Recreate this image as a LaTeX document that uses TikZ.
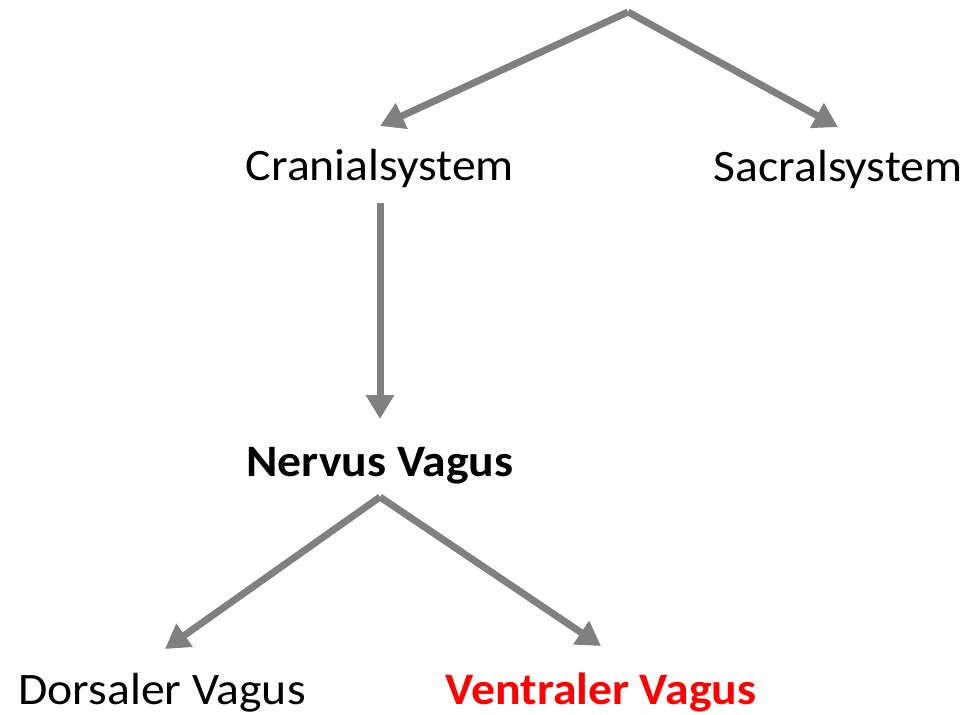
\documentclass[tikz,border=0pt]{standalone}
\usepackage{fontspec}
\setmainfont{Carlito}[FakeStretch=1.06]
\usetikzlibrary{arrows.meta}
\definecolor{arrgray}{RGB}{128,128,128}
\definecolor{vred}{RGB}{255,0,0}
\tikzset{
  lbl/.style={anchor=base, inner sep=0pt, font=\fontsize{45}{54}\selectfont},
  conn/.style={draw=arrgray, line width=7pt, -{Triangle[length=24pt,width=27pt]}, shorten <=0pt}
}
\begin{document}
\begin{tikzpicture}[x=1pt,y=-1pt]
\useasboundingbox (0,0) rectangle (968,714);
\node[lbl] (cran) at (380,180) {Cranialsystem};
\node[lbl] (sacr) at (838,182) {Sacralsystem};
\node[lbl, font=\fontsize{45}{54}\selectfont\bfseries] (nerv) at (380,476) {Nervus Vagus};
\node[lbl] (dors) at (162,704) {Dorsaler Vagus};
\node[lbl, text=vred, font=\fontsize{45}{54}\selectfont\bfseries] (vent) at (601,704) {Ventraler Vagus};
\coordinate (top) at (628,12);
\coordinate (cranTip) at (380,126);
\coordinate (sacrTip) at (838,127);
\coordinate (cranBot) at (380,203);
\coordinate (nervTip) at (380,419);
\coordinate (nervBot) at (380,497);
\coordinate (dorsTip) at (165,649);
\coordinate (ventTip) at (601,646);
\draw[conn] (top) -- (cranTip);
\draw[conn] (top) -- (sacrTip);
\draw[conn] (cranBot) -- (nervTip);
\draw[conn] (nervBot) -- (dorsTip);
\draw[conn] (nervBot) -- (ventTip);
\end{tikzpicture}
\end{document}
